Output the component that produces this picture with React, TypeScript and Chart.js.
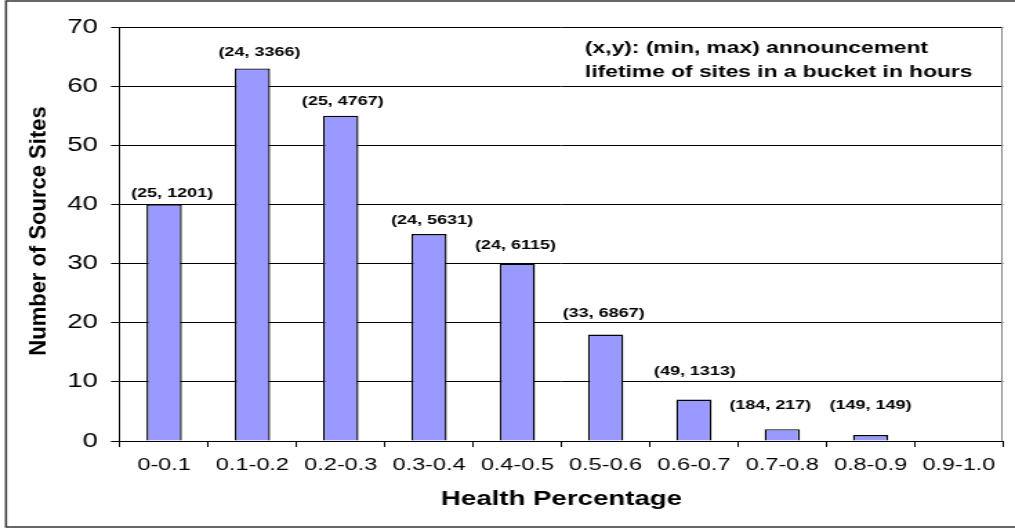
import React, { useEffect, useRef } from 'react';
import { Chart, registerables } from 'chart.js';

Chart.register(...registerables);

// ---- data ----
const categories = ['0-0.1', '0.1-0.2', '0.2-0.3', '0.3-0.4', '0.4-0.5', '0.5-0.6', '0.6-0.7', '0.7-0.8', '0.8-0.9', '0.9-1.0'];
const siteCounts = [40, 63, 55, 35, 30, 18, 7, 2, 1, 0];
const lifetimeLabels = ['(25, 1201)', '(24, 3366)', '(25, 4767)', '(24, 5631)', '(24, 6115)', '(33, 6867)', '(49, 1313)', '(184, 217)', '(149, 149)', ''];
const yMin = 0;
const yMax = 70;
const yStep = 10;
const xTitle = 'Health Percentage';
const yTitle = 'Number of Source Sites';
const noteLines = ['(x,y): (min, max) announcement', 'lifetime of sites in a bucket in hours'];

// label nudges (screen px)
const LABEL_DX = [8, 7, 2, 3, -2, -2, 1, -12, 0, 0];
const LABEL_DY = [10.5, 16, 14, 14, 18, 21.5, 28.6, 24, 30, 0];

// ---- layout ----
const OUT_W = 1015;
const OUT_H = 529;
const IN_W = 735;
const S = OUT_W / IN_W; // horizontal stretch
const FONT = "'Liberation Sans', Arial, sans-serif";

const overlay = {
  id: 'overlay',
  afterDraw(chart: any) {
    const ctx = chart.ctx as CanvasRenderingContext2D;
    const a = chart.chartArea;
    ctx.save();
    // outer frame
    ctx.strokeStyle = '#333';
    ctx.lineWidth = 1.5;
    ctx.strokeRect(6 / S, 1, chart.width + 40, 526);
    // right border of plot
    ctx.strokeStyle = '#808080';
    ctx.lineWidth = 1;
    ctx.beginPath();
    ctx.moveTo(Math.round(a.right) - 0.5, a.top);
    ctx.lineTo(Math.round(a.right) - 0.5, a.bottom);
    ctx.stroke();

    // bar labels
    ctx.fillStyle = '#000';
    ctx.font = 'bold 13px ' + FONT;
    ctx.textAlign = 'center';
    ctx.textBaseline = 'alphabetic';
    const meta = chart.getDatasetMeta(0);
    meta.data.forEach((bar: any, i: number) => {
      const t = lifetimeLabels[i];
      if (!t) return;
      ctx.fillText(t, bar.x + LABEL_DX[i] / S, bar.y - LABEL_DY[i] + 0.27 * 13);
    });

    // note
    ctx.font = 'bold 16.5px ' + FONT;
    ctx.textAlign = 'left';
    ctx.fillText(noteLines[0], 585 / S, 53);
    ctx.fillText(noteLines[1], 585 / S, 77);

    // x title
    ctx.font = 'bold 20px ' + FONT;
    ctx.textAlign = 'center';
    ctx.fillText(xTitle, (a.left + a.right) / 2, 505);

    // y title (counter the horizontal stretch)
    ctx.save();
    ctx.translate(45 / S, 231);
    ctx.scale(1 / S, 1);
    ctx.rotate(-Math.PI / 2);
    ctx.font = 'bold 22px ' + FONT;
    ctx.textAlign = 'center';
    ctx.textBaseline = 'alphabetic';
    ctx.fillText(yTitle, 0, 0);
    ctx.restore();

    ctx.restore();
  },
};

export default function App() {
  const ref = useRef<HTMLCanvasElement>(null);

  useEffect(() => {
    if (!ref.current) return;
    const chart = new Chart(ref.current, {
      type: 'bar',
      data: {
        labels: categories,
        datasets: [
          {
            data: siteCounts,
            backgroundColor: '#9999FF',
            borderColor: '#000',
            borderWidth: 1.4,
            categoryPercentage: 1,
            barPercentage: 0.4,
          },
        ],
      },
      options: {
        animation: false,
        responsive: false,
        devicePixelRatio: 1,
        events: [],
        layout: { padding: { left: 0, right: IN_W - 1003 / S, top: 27, bottom: 0 } },
        plugins: { legend: { display: false }, tooltip: { enabled: false }, title: { display: false } },
        scales: {
          x: {
            offset: true,
            grid: { offset: true, drawOnChartArea: false, drawTicks: true, tickLength: 6, color: '#000' },
            border: { display: true, color: '#000', width: 1 },
            ticks: { color: '#000', font: { family: FONT, size: 17 }, padding: 8, maxRotation: 0, autoSkip: false },
            afterFit: (scale: any) => {
              scale.height = OUT_H - 441;
            },
          },
          y: {
            min: yMin,
            max: yMax,
            grid: { color: '#000', drawTicks: true, tickLength: 6.5 },
            border: { display: true, color: '#000', width: 1 },
            ticks: { stepSize: yStep, color: '#000', font: { family: FONT, size: 20 }, padding: 9.4 },
            afterFit: (scale: any) => {
              scale.width = 120 / S;
            },
          },
        },
      },
      plugins: [overlay],
    });
    return () => chart.destroy();
  }, []);

  return (
    <canvas
      ref={ref}
      width={IN_W}
      height={OUT_H}
      style={{ position: 'absolute', left: 0, top: 0, display: 'block', width: OUT_W + 'px', height: OUT_H + 'px' }}
    />
  );
}
